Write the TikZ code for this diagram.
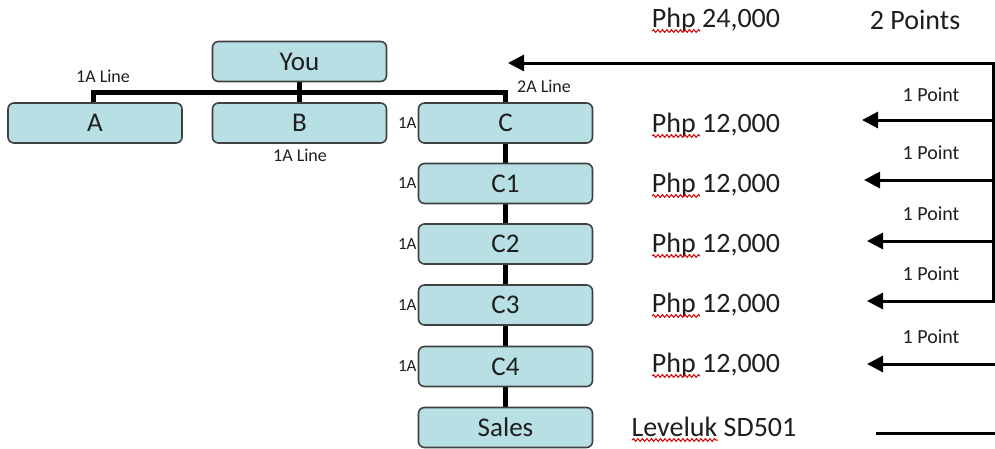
\documentclass[tikz,border=0pt]{standalone}
\usepackage{fontspec}
\setmainfont{Carlito}
\usetikzlibrary{arrows.meta,decorations.pathmorphing}
\pgfdeclarelayer{bg}
\pgfsetlayers{bg,main}
\definecolor{boxfill}{RGB}{184,223,227}
\definecolor{boxedge}{RGB}{64,64,64}
\definecolor{txt}{RGB}{30,30,30}
\tikzset{
  box/.style={draw=boxedge,line width=1.6pt,fill=boxfill,rounded corners=6pt,
    minimum width=174pt,minimum height=40pt,inner sep=0pt,
    font=\fontsize{27}{30}\selectfont,text=txt},
  tree/.style={line width=5pt},
  lbl/.style={font=\fontsize{18}{20}\selectfont,text=txt,inner sep=0pt},
  albl/.style={font=\fontsize{17}{19}\selectfont,text=txt,inner sep=0pt,anchor=east},
  ptlbl/.style={font=\fontsize{20}{22}\selectfont,text=txt,inner sep=0pt},
  big/.style={font=\fontsize{28}{30}\selectfont,text=txt,inner sep=0pt},
  arr/.style={line width=3pt,-{Triangle[length=16pt,width=16pt]}},
  plain/.style={line width=3pt},
  spell/.style={red!85!black,line width=1pt,decorate,
    decoration={snake,amplitude=1.4pt,segment length=4.5pt}}
}
\begin{document}
\begin{tikzpicture}[x=1pt,y=-1pt]
\useasboundingbox (0,0) rectangle (995,448);
% boxes
\node[box] (You) at (299.5,61.5) {You};
\node[box] (A) at (95,123) {A};
\node[box] (B) at (299.5,123) {B};
\node[box] (C) at (505.5,123) {C};
\node[box] (C1) at (505.5,183.5) {C1};
\node[box] (C2) at (505.5,244) {C2};
\node[box] (C3) at (505.5,305) {C3};
\node[box] (C4) at (505.5,366.5) {C4};
\node[box] (Sales) at (505.5,427.5) {Sales};
% tree connectors, behind the boxes
\begin{pgfonlayer}{bg}
\draw[tree] (You.south) -- (B.north);
\draw[tree] ([xshift=-2pt]A.north) -- ++(0,-10) -| (C.north);
\draw[tree] (C.south) -- (C1.north);
\draw[tree] (C1.south) -- (C2.north);
\draw[tree] (C2.south) -- (C3.north);
\draw[tree] (C3.south) -- (C4.north);
\draw[tree] (C4.south) -- (Sales.north);
\end{pgfonlayer}
% line labels
\node[lbl] (l1) at (103,76) {1A Line};
\node[lbl] (l2) at (544,86) {2A Line};
\node[lbl] (l3) at (300,155) {1A Line};
\node[albl] (a0) at ([xshift=-1pt]C.west) {1A};
\node[albl] (a1) at ([xshift=-1pt]C1.west) {1A};
\node[albl] (a2) at ([xshift=-1pt]C2.west) {1A};
\node[albl] (a3) at ([xshift=-1pt]C3.west) {1A};
\node[albl] (a4) at ([xshift=-1pt]C4.west) {1A};
% right texts
\node[big] (p0) at (716,20) {Php 24,000};
\node[big] (pts) at (915,20) {2 Points};
\node[big] (p1) at (716,125) {Php 12,000};
\node[big] (p2) at (716,185) {Php 12,000};
\node[big] (p3) at (716,245) {Php 12,000};
\node[big] (p4) at (716,305) {Php 12,000};
\node[big] (p5) at (716,365) {Php 12,000};
\node[big] (lv) at (714,427) {Leveluk SD501};
% spell-check underlines
\foreach \y in {31,136,196,256,316,376}{
  \draw[spell] (652,\y) -- (700,\y);
}
\draw[spell] (632,440) -- (718,440);
% point arrows
\coordinate (r0) at (993,63);
\coordinate (r1) at (995,120);
\coordinate (r2) at (995,180);
\coordinate (r3) at (995,241);
\coordinate (r4) at (995,301);
\coordinate (r5) at (995,364);
\coordinate (r6) at (995,433);
\coordinate (rb) at (993,301);
\coordinate (t0) at (508,63);
\coordinate (t1) at (862,120);
\coordinate (t2) at (864,180);
\coordinate (t3) at (867,241);
\coordinate (t4) at (867,301);
\coordinate (t5) at (867,364);
\coordinate (t6) at (876,433);
\draw[plain] (rb) -- (r0);
\draw[arr] ([xshift=1.5pt]r0) -- (t0);
\draw[arr] (r1) -- (t1);
\draw[arr] (r2) -- (t2);
\draw[arr] (r3) -- (t3);
\draw[arr] (r4) -- (t4);
\draw[arr] (r5) -- (t5);
\draw[plain] (r6) -- (t6);
% point labels
\node[ptlbl] (q1) at (931,95) {1 Point};
\node[ptlbl] (q2) at (931,153) {1 Point};
\node[ptlbl] (q3) at (931,214) {1 Point};
\node[ptlbl] (q4) at (931,274) {1 Point};
\node[ptlbl] (q5) at (931,337) {1 Point};
\end{tikzpicture}
\end{document}
